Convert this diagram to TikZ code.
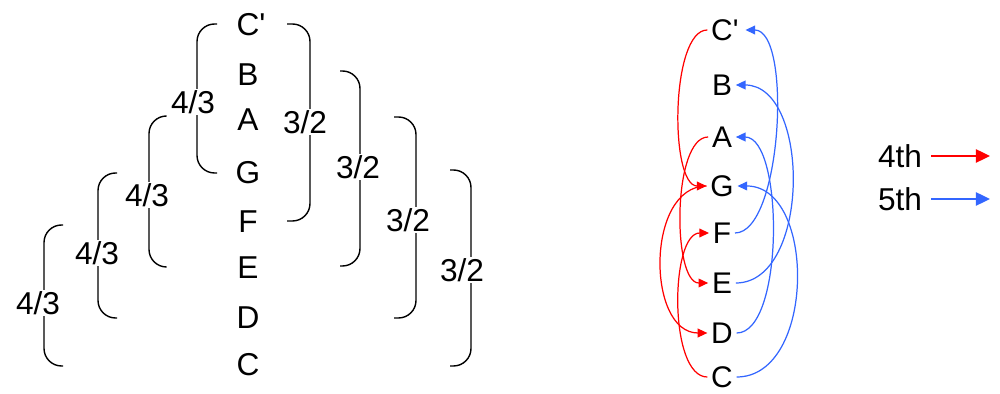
\documentclass[tikz,border=0pt]{standalone}
\usepackage{fontspec}
\newfontfamily\arial{Liberation Sans}
\usetikzlibrary{arrows.meta}

\definecolor{fifthblue}{RGB}{51,102,255}

\tikzset{
    note/.style={font=\arial\fontsize{18}{21}\selectfont, inner sep=1pt},
    ratio/.style={font=\arial\fontsize{18}{21}\selectfont, fill=white, inner sep=1pt},
    brace/.style={line width=0.8pt, rounded corners=10pt},
    pitch/.style={font=\arial\fontsize{17}{20}\selectfont, inner sep=2pt},
    fourth/.style={red, line width=0.7pt, -{Triangle[length=5.5pt,width=5pt]}},
    fifth/.style={fifthblue, line width=0.7pt, -{Triangle[length=5.5pt,width=5pt]}},
    key/.style={line width=1.1pt, -{Triangle[length=8pt,width=7.5pt]}}
}

\begin{document}
\begin{tikzpicture}[x=0.02cm,y=-0.02cm]
    \useasboundingbox (0,0) rectangle (1000,394);

    % Scale with brackets
    \foreach \n/\y/\name in {Cp/25/{C\rlap{'}},B/75/B,A/120/A,G/173/G,F/222/F,E/268/E,D/318/D,C/365/C} {
        \node[note] (l\n) at (248,\y) {\name};
    }

    % 4ths on the left, 5ths on the right
    \foreach \ex/\vx/\ya/\yb/\lx/\ly/\lab in {217/197/24/173/193/102/{4/3}, 166/149/116/267/147/195/{4/3},
            117/98/173/318/97/253/{4/3}, 63/44/225/366/38/303/{4/3},
            287/310/24/221/305/122/{3/2}, 340/360/71/266/358/167/{3/2},
            394/416/117/318/408/220/{3/2}, 450/471/170/366/462/270/{3/2}} {
        \draw[brace] (\ex,\ya) -- (\vx,\ya) -- (\vx,\yb) -- (\ex,\yb);
        \node[ratio] (r\ex) at (\lx,\ly) {\lab};
    }

    % Cycle of 4ths and 5ths
    \foreach \n/\y/\name in {Cp/30/{C\rlap{'}},B/85/B,A/137/A,G/186/G,F/233/F,E/283/E,D/333/D,C/377/C} {
        \node[pitch] (p\n) at (722,\y) {\name};
    }

    \draw[fourth] (pCp.west) .. controls +(-37,0) and +(-37,0) .. (pG.west);
    \draw[fourth] (pA.west) .. controls +(-36,0) and +(-36,0) .. (pE.west);
    \draw[fourth] (pG.west) .. controls +(-61,0) and +(-61,0) .. (pD.west);
    \draw[fourth] (pC.west) .. controls +(-39,0) and +(-39,0) .. (pF.west);

    \draw[fifth] (pF.east) .. controls +(47,0) and +(47,0) .. ([xshift=5pt]pCp.east);
    \draw[fifth] (pE.east) .. controls +(75,0) and +(75,0) .. (pB.east);
    \draw[fifth] (pD.east) .. controls +(48,0) and +(48,0) .. (pA.east);
    \draw[fifth] (pC.east) .. controls +(79,0) and +(79,0) .. (pG.east);

    % Legend
    \node[note] (k4) at (900,156) {4th};
    \coordinate (k4end) at (990,156);
    \draw[key, red] (k4.east) ++(4pt,0) -- (k4end);
    \node[note] (k5) at (900,199) {5th};
    \coordinate (k5end) at (990,199);
    \draw[key, fifthblue] (k5.east) ++(4pt,0) -- (k5end);
\end{tikzpicture}
\end{document}
